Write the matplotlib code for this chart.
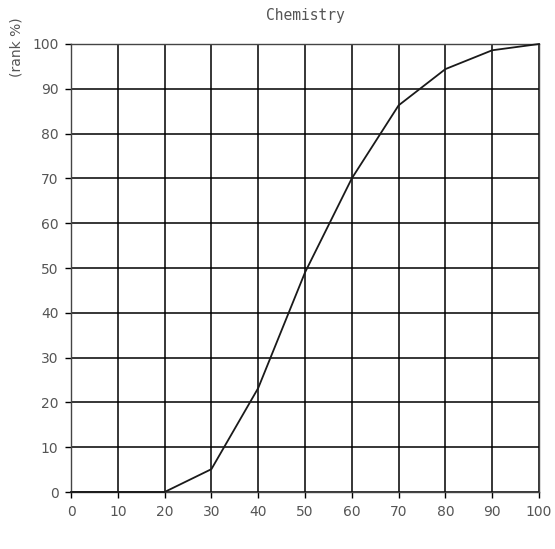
import numpy as np
import matplotlib
matplotlib.use('Agg')
import matplotlib.pyplot as plt

plt.rcParams['font.family'] = ['DejaVu Sans']

score = [0, 10, 20, 30, 40, 50, 60, 70, 80, 90, 100]
rank = [0, 0, 0, 5.1, 23.2, 49.0, 70.0, 86.3, 94.4, 98.6, 100]
x_ticks = np.arange(0, 101, 10)
y_ticks = np.arange(0, 101, 10)

fig = plt.figure(figsize=(5.55, 5.49), dpi=100)
ax = fig.add_axes([71/555, 1 - 492/549, 468/555, 448/549])

ax.plot(score, rank, color='#1a1a1a', lw=1.3, zorder=3, clip_on=False)

ax.set_xlim(0, 100)
ax.set_ylim(0, 100)
ax.set_xticks(x_ticks)
ax.set_yticks(y_ticks)
ax.grid(True, color='black', lw=1.1)
for s in ax.spines.values():
    s.set_color('#444444')
    s.set_linewidth(1.0)

lab_col = '#555555'
ax.tick_params(axis='both', direction='out', length=4, width=1, color='black',
               labelsize=10, labelcolor=lab_col, pad=5)

ax.set_title('Chemistry', fontsize=10.5, color=lab_col, family='monospace', pad=17)
fig.text(16/555, 1 - 47/549, '(rank %)', rotation=90, ha='center', va='center',
         fontsize=10, color=lab_col)

fig.savefig('out.png', dpi=100)
